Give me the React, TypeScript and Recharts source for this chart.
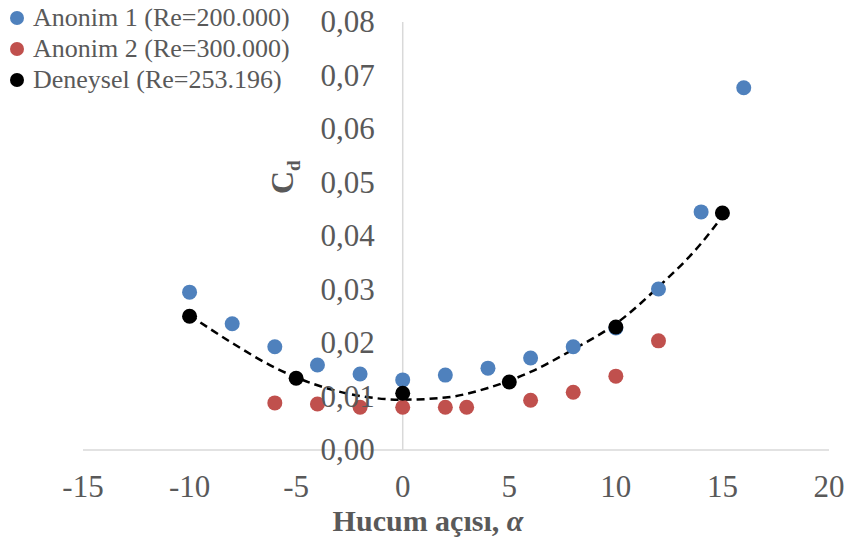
import React from "react";
import {
  ComposedChart,
  Line,
  ReferenceLine,
  Scatter,
  XAxis,
  YAxis,
} from "recharts";

const anonim1Alpha = [-10, -8, -6, -4, -2, 0, 2, 4, 6, 8, 10, 12, 14, 16];
const anonim1Cd = [0.0295, 0.0236, 0.0193, 0.0159, 0.0142, 0.0131, 0.014, 0.0153, 0.0172, 0.0193, 0.0228, 0.0301, 0.0445, 0.0677];

const anonim2Alpha = [-6, -4, -2, 0, 2, 3, 6, 8, 10, 12];
const anonim2Cd = [0.0088, 0.0086, 0.008, 0.008, 0.008, 0.008, 0.0093, 0.0108, 0.0138, 0.0204];

const deneyselAlpha = [-10, -5, 0, 5, 10, 15];
const deneyselCd = [0.025, 0.0134, 0.0106, 0.0127, 0.023, 0.0443];

// dashed trendline
const trendAlpha = [-10, -8, -6, -4, -2, 0, 2, 4, 6, 8, 10, 12, 14, 15];
const trendCd = [0.0252, 0.02, 0.0154, 0.0121, 0.0101, 0.0094, 0.0098, 0.0116, 0.0146, 0.0188, 0.0236, 0.0305, 0.0386, 0.0437];

const xTicks = [-15, -10, -5, 0, 5, 10, 15, 20];
const yTicks = [0, 0.01, 0.02, 0.03, 0.04, 0.05, 0.06, 0.07, 0.08];

const seriesNames = ["Anonim 1 (Re=200.000)", "Anonim 2 (Re=300.000)", "Deneysel (Re=253.196)"];
const seriesColors = ["#4F81BD", "#C0504D", "#000000"];

const toPoints = (xs: number[], ys: number[]) => xs.map((x, i) => ({ x, y: ys[i] }));

const W = 849;
const H = 544;
const LEFT = 83;
const RIGHT = 20;
const TOP = 22;
const X_AXIS_H = 94;
const X_MIN = -15;
const X_MAX = 20;
const ZERO_X = LEFT + ((0 - X_MIN) / (X_MAX - X_MIN)) * (W - LEFT - RIGHT);

const FONT = '"Liberation Serif", "Times New Roman", serif';
const TEXT = "#595959";
const AXIS = "#d9d9d9";

const Dot = (color: string) => (props: any) => (
  <circle cx={props.cx} cy={props.cy} r={7.5} fill={color} />
);

const XTick = (props: any) => (
  <text x={props.x} y={497} textAnchor="middle" fontSize={31} fontFamily={FONT} fill={TEXT}>
    {props.payload.value}
  </text>
);

const YTick = (props: any) => (
  <text x={ZERO_X - 28} y={props.y + 10} textAnchor="end" fontSize={31} fontFamily={FONT} fill={TEXT}>
    {Number(props.payload.value).toFixed(2).replace(".", ",")}
  </text>
);

export default function App() {
  return (
    <div style={{ position: "absolute", left: 0, top: 0, width: W, height: H, background: "#fff" }}>
      <ComposedChart width={W} height={H} margin={{ top: TOP, right: RIGHT, left: 0, bottom: 0 }}>
        <XAxis
          type="number"
          dataKey="x"
          domain={[X_MIN, X_MAX]}
          ticks={xTicks}
          height={X_AXIS_H}
          axisLine={{ stroke: AXIS, strokeWidth: 1.5 }}
          tickLine={false}
          tick={<XTick />}
          allowDataOverflow
          label={{
            content: () => (
              <text x={428} y={531} textAnchor="middle" fontSize={30} fontWeight="bold" fontFamily={FONT} fill={TEXT}>
                Hucum açısı, <tspan fontStyle="italic">α</tspan>
              </text>
            ),
          }}
        />
        <YAxis
          type="number"
          dataKey="y"
          domain={[0, 0.08]}
          ticks={yTicks}
          width={LEFT}
          axisLine={false}
          tickLine={false}
          tick={<YTick />}
          allowDataOverflow
          label={{
            content: () => (
              <text
                x={293}
                y={194}
                transform="rotate(-90, 293, 194)"
                fontSize={32}
                fontWeight="bold"
                fontFamily={FONT}
                fill={TEXT}
              >
                C<tspan fontSize={19} dy={7}>d</tspan>
              </text>
            ),
          }}
        />
        <ReferenceLine x={0} stroke={AXIS} strokeWidth={1.5} />
        <Scatter
          name={seriesNames[0]}
          data={toPoints(anonim1Alpha, anonim1Cd)}
          fill={seriesColors[0]}
          shape={Dot(seriesColors[0])}
          isAnimationActive={false}
        />
        <Scatter
          name={seriesNames[1]}
          data={toPoints(anonim2Alpha, anonim2Cd)}
          fill={seriesColors[1]}
          shape={Dot(seriesColors[1])}
          isAnimationActive={false}
        />
        <Line
          data={toPoints(trendAlpha, trendCd)}
          dataKey="y"
          type="monotone"
          stroke="#000"
          strokeWidth={2.5}
          strokeDasharray="8 5"
          dot={false}
          activeDot={false}
          isAnimationActive={false}
        />
        <Scatter
          name={seriesNames[2]}
          data={toPoints(deneyselAlpha, deneyselCd)}
          fill={seriesColors[2]}
          shape={Dot(seriesColors[2])}
          isAnimationActive={false}
        />
      </ComposedChart>
      <div style={{ position: "absolute", left: 10, top: 2, fontFamily: FONT, fontSize: 26, color: TEXT }}>
        {seriesNames.map((name, i) => (
          <div key={name} style={{ display: "flex", alignItems: "center", height: 31, whiteSpace: "nowrap" }}>
            <span
              style={{
                display: "inline-block",
                width: 14,
                height: 14,
                borderRadius: "50%",
                background: seriesColors[i],
                marginRight: 9,
              }}
            />
            {name}
          </div>
        ))}
      </div>
    </div>
  );
}
